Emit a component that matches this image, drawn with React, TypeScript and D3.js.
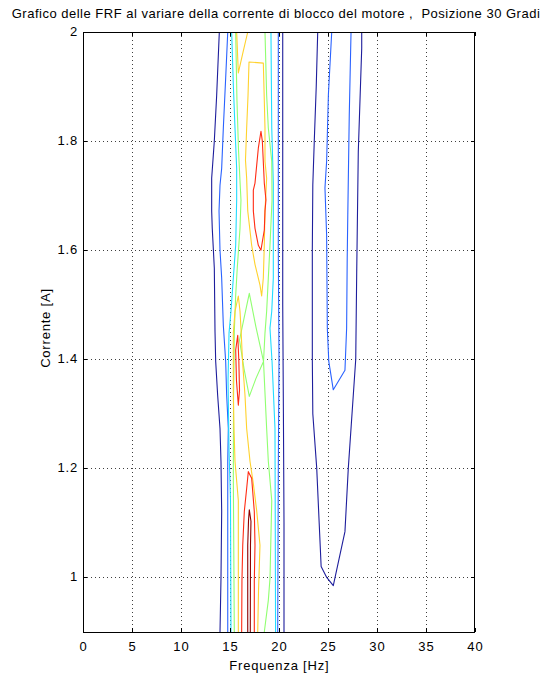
import React from "react";
import * as d3 from "d3";

type P = [number, number];

// ---- axis ticks ----
const xTicks = [0, 5, 10, 15, 20, 25, 30, 35, 40];
const yTicks = [1, 1.2, 1.4, 1.6, 1.8, 2];
const yTickLabels = ["1", "1.2", "1.4", "1.6", "1.8", "2"];

// ---- contour levels (jet colormap) ----
const levelColors = ["#1e1e9c", "#2a62ff", "#22dcff", "#90ff70", "#ffd22e", "#ff2c14", "#8c0000"];

// ---- contour lines: [frequency Hz, current A] ----
// level 1 (navy)
const navyLeft: P[] = [[13.91, 2.0], [13.64, 1.884], [13.4, 1.8], [13.13, 1.732], [13.13, 1.672], [13.19, 1.64], [13.4, 1.567], [13.47, 1.451], [13.54, 1.396], [13.74, 1.334], [13.98, 1.273], [14.08, 1.213], [14.15, 1.121], [14.08, 0.998], [13.98, 0.9]];
const navyRight: P[] = [[20.38, 2.0], [20.38, 1.5], [20.45, 1.3], [20.51, 1.1], [20.51, 0.9]];
const navyFar: P[] = [[23.95, 2.0], [23.8, 1.9], [23.6, 1.8], [23.45, 1.72], [23.4, 1.6], [23.4, 1.4], [23.45, 1.3], [23.85, 1.2], [24.1, 1.1], [24.3, 1.02], [24.87, 1.0], [25.54, 0.985], [26.73, 1.084], [27.07, 1.2], [27.58, 1.334], [27.83, 1.4], [27.93, 1.56], [28.09, 1.78], [28.44, 1.97], [28.44, 2.0]];
// level 2 (blue)
const blueLeft: P[] = [[14.77, 2.0], [14.56, 1.916], [14.32, 1.824], [14.15, 1.75], [13.98, 1.719], [13.88, 1.672], [13.98, 1.6], [14.15, 1.549], [14.32, 1.462], [14.56, 1.396], [14.66, 1.334], [14.83, 1.273], [14.77, 1.213], [14.77, 0.9]];
const blueRight: P[] = [[19.93, 2.0], [19.93, 1.6], [20.0, 1.4], [19.93, 1.2], [19.87, 0.9]];
const blueFar: P[] = [[25.38, 2.0], [25.04, 1.885], [24.86, 1.763], [24.69, 1.714], [24.86, 1.628], [24.93, 1.457], [25.08, 1.396], [25.54, 1.344], [26.73, 1.38], [26.9, 1.457], [26.96, 1.585], [27.02, 1.665], [27.17, 1.848], [27.35, 2.0]];
// level 3 (cyan)
const cyanLeft: P[] = [[15.17, 2.0], [15.34, 1.903], [15.51, 1.824], [15.68, 1.75], [15.68, 1.692], [15.58, 1.609], [15.34, 1.549], [15.1, 1.488], [14.9, 1.448], [14.8, 1.361], [14.9, 1.233], [15.05, 1.141], [15.1, 0.9]];
const cyanRight: P[] = [[19.18, 2.0], [19.26, 1.824], [19.42, 1.723], [19.42, 1.549], [19.26, 1.488], [19.08, 1.457], [19.29, 1.396], [19.59, 1.273], [19.65, 0.9]];
// level 4 (green)
const greenLeft: P[] = [[15.58, 2.0], [15.71, 1.875], [15.87, 1.783], [16.02, 1.727], [16.12, 1.692], [16.02, 1.64], [15.74, 1.567], [15.58, 1.517], [15.44, 1.451], [15.36, 1.325], [15.34, 1.182], [15.44, 0.9]];
const greenRight: P[] = [[18.57, 2.0], [18.74, 1.884], [18.91, 1.824], [19.26, 1.763], [19.29, 1.692], [19.08, 1.609], [18.91, 1.549], [18.74, 1.488], [18.57, 1.448], [18.42, 1.396], [18.74, 1.273], [18.91, 1.213], [19.26, 1.141], [19.08, 0.998], [18.91, 0.958], [18.5, 0.9]];
const greenLoop: P[] = [[16.97, 1.521], [17.65, 1.459], [18.42, 1.396], [17.65, 1.365], [16.97, 1.332], [16.43, 1.383], [15.97, 1.435], [16.43, 1.475]];
// level 5 (yellow)
const yellowTop: P[] = [[15.68, 2.0], [15.85, 1.925], [16.33, 1.963], [16.81, 2.0]];
const yellowLoop: P[] = [[16.94, 1.945], [18.4, 1.943], [18.5, 1.875], [18.57, 1.824], [18.57, 1.763], [18.74, 1.732], [18.57, 1.672], [18.5, 1.609], [18.4, 1.549], [18.23, 1.516], [18.06, 1.536], [17.55, 1.574], [17.21, 1.609], [16.81, 1.672], [16.7, 1.732], [16.58, 1.765], [16.7, 1.824], [16.84, 1.884]];
const yellowLow: P[] = [[15.85, 0.9], [15.85, 1.141], [15.51, 1.213], [15.41, 1.273], [15.34, 1.334], [15.34, 1.448], [15.51, 1.488], [15.85, 1.516], [16.02, 1.488], [16.12, 1.457], [16.28, 1.396], [16.53, 1.334], [16.7, 1.273], [17.04, 1.213], [17.38, 1.172], [17.72, 1.123], [18.06, 1.059], [17.91, 0.976], [17.83, 0.9]];
// level 6 (red)
const redLoopTop: P[] = [[18.16, 1.818], [18.3, 1.8], [18.5, 1.723], [18.67, 1.692], [18.57, 1.672], [18.5, 1.637], [18.16, 1.6], [17.89, 1.609], [17.55, 1.64], [17.38, 1.672], [17.38, 1.71], [17.55, 1.723], [17.89, 1.787]];
const redLoopMid: P[] = [[15.79, 1.444], [15.9, 1.398], [15.97, 1.343], [15.85, 1.316], [15.66, 1.361], [15.58, 1.417]];
const redLow: P[] = [[16.19, 0.9], [16.22, 0.994], [16.3, 1.059], [16.46, 1.121], [16.7, 1.163], [16.87, 1.194], [17.21, 1.182], [17.48, 1.121], [17.55, 1.059], [17.48, 0.994], [17.48, 0.9]];
// level 7 (dark red)
const darkRedLow: P[] = [[16.81, 0.9], [16.81, 1.059], [16.89, 1.105], [16.97, 1.124], [17.14, 1.103], [17.09, 1.059], [17.07, 0.9]];

const contours: { level: number; pts: P[]; closed: boolean }[] = [
  { level: 0, pts: navyLeft, closed: false },
  { level: 0, pts: navyRight, closed: false },
  { level: 0, pts: navyFar, closed: false },
  { level: 1, pts: blueLeft, closed: false },
  { level: 1, pts: blueRight, closed: false },
  { level: 1, pts: blueFar, closed: false },
  { level: 2, pts: cyanLeft, closed: false },
  { level: 2, pts: cyanRight, closed: false },
  { level: 3, pts: greenLeft, closed: false },
  { level: 3, pts: greenRight, closed: false },
  { level: 3, pts: greenLoop, closed: true },
  { level: 4, pts: yellowTop, closed: false },
  { level: 4, pts: yellowLoop, closed: true },
  { level: 4, pts: yellowLow, closed: false },
  { level: 5, pts: redLoopTop, closed: true },
  { level: 5, pts: redLoopMid, closed: true },
  { level: 5, pts: redLow, closed: false },
  { level: 6, pts: darkRedLow, closed: false },
];

const TITLE = "Grafico delle FRF al variare della corrente di blocco del motore ,  Posizione 30 Gradi";

const W = 541, H = 675;
const L = 83, R = 475, T = 32, B = 632;
const FONT = "'Liberation Sans', Arial, Helvetica, sans-serif";

export default function App() {
  const x = d3.scaleLinear().domain([0, 40]).range([L, R]);
  const y = d3.scaleLinear().domain([0.9, 2]).range([B, T]);
  const lineOpen = d3.line<P>().x((d) => x(d[0])).y((d) => y(d[1])).curve(d3.curveLinear);
  const lineClosed = d3.line<P>().x((d) => x(d[0])).y((d) => y(d[1])).curve(d3.curveLinearClosed);

  return (
    <svg width={W} height={H} style={{ position: "absolute", left: 0, top: 0, background: "#fff" }} fontFamily={FONT}>
      <rect x={0} y={0} width={W} height={H} fill="#fff" />
      {/* grid */}
      <g stroke="#000" strokeWidth={1} strokeDasharray="1,3" opacity={0.75}>
        {xTicks.slice(1, -1).map((t) => (
          <line key={"gx" + t} x1={Math.round(x(t)) + 0.5} x2={Math.round(x(t)) + 0.5} y1={T} y2={B} />
        ))}
        {yTicks.slice(0, -1).map((t) => (
          <line key={"gy" + t} x1={L} x2={R} y1={Math.round(y(t)) + 0.5} y2={Math.round(y(t)) + 0.5} />
        ))}
      </g>
      {/* contours */}
      <g fill="none" strokeWidth={1.1} strokeLinejoin="round">
        {contours.map((c, i) => (
          <path key={i} d={(c.closed ? lineClosed : lineOpen)(c.pts) || ""} stroke={levelColors[c.level]} />
        ))}
      </g>
      {/* axes box */}
      <rect x={L + 0.5} y={T + 0.5} width={R - L - 1} height={B - T} fill="none" stroke="#000" strokeWidth={1} />
      {/* ticks */}
      <g stroke="#000" strokeWidth={1}>
        {xTicks.map((t) => (
          <g key={"tx" + t}>
            <line x1={Math.round(x(t)) + 0.5} x2={Math.round(x(t)) + 0.5} y1={B} y2={B - 4} />
            <line x1={Math.round(x(t)) + 0.5} x2={Math.round(x(t)) + 0.5} y1={T} y2={T + 4} />
          </g>
        ))}
        {yTicks.map((t) => (
          <g key={"ty" + t}>
            <line x1={L} x2={L + 4} y1={Math.round(y(t)) + 0.5} y2={Math.round(y(t)) + 0.5} />
            <line x1={R - 4} x2={R} y1={Math.round(y(t)) + 0.5} y2={Math.round(y(t)) + 0.5} />
          </g>
        ))}
      </g>
      {/* tick labels */}
      <g fontSize={13} fill="#000" letterSpacing={0.8}>
        {xTicks.map((t) => (
          <text key={"lx" + t} x={x(t) + 0.4} y={B + 19} textAnchor="middle">{t}</text>
        ))}
        {yTicks.map((t, i) => (
          <text key={"ly" + t} x={L - 5} y={y(t) + 4} textAnchor="end">{yTickLabels[i]}</text>
        ))}
      </g>
      {/* axis labels */}
      <text x={(L + R) / 2 + 0.4} y={670} textAnchor="middle" fontSize={13} letterSpacing={0.8} fill="#000">Frequenza [Hz]</text>
      <text transform={`translate(50, ${(T + B) / 2 - 4}) rotate(-90)`} textAnchor="middle" fontSize={13} letterSpacing={0.8} fill="#000">Corrente [A]</text>
      <text x={276} y={18} textAnchor="middle" fontSize={13} letterSpacing={0.5} fill="#000" style={{ whiteSpace: "pre" }}>
        {TITLE}
      </text>
    </svg>
  );
}
